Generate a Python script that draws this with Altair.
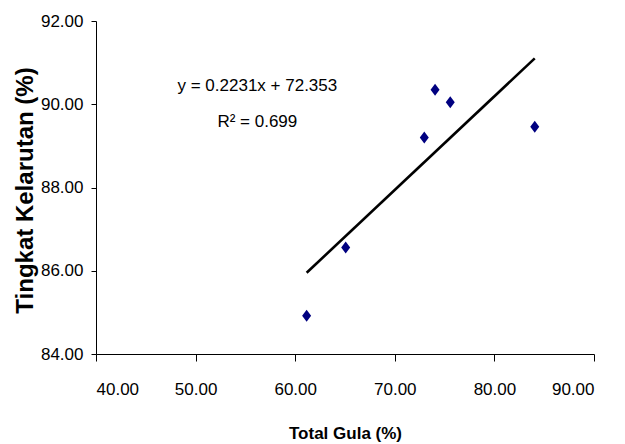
import altair as alt
import pandas as pd

# Data
total_gula = [61.15, 65.07, 72.96, 74.04, 75.57, 84.05]
kelarutan = [84.92, 86.56, 89.20, 90.35, 90.05, 89.46]

eq_lines = ["y = 0.2231x + 72.353", "R\u00b2 = 0.699"]
eq_x = [56.2, 56.2]
eq_y = [90.44, 89.57]

x_ticks = [40, 50, 60, 70, 80, 90]
y_ticks = [84, 86, 88, 90, 92]

FONT = "Liberation Sans, Arial, sans-serif"

df = pd.DataFrame({"x": total_gula, "y": kelarutan})
ann = pd.DataFrame({"text": eq_lines, "x": eq_x, "y": eq_y})

xscale = alt.Scale(domain=[40, 90], nice=False, zero=False)
yscale = alt.Scale(domain=[84, 92], nice=False, zero=False)

xaxis = alt.Axis(
    title="Total Gula (%)", values=x_ticks, format=".2f", grid=False,
    domainColor="black", tickColor="black", tickSize=7, labelColor="black",
    labelFont=FONT, labelFontSize=17, labelPadding=20,
    titleFont=FONT, titleFontSize=17, titleFontWeight="bold", titleColor="black",
    titleBaseline="alphabetic", titleY=84,
)
yaxis = alt.Axis(
    title="Tingkat Kelarutan (%)", values=y_ticks, format=".2f", grid=False,
    domainColor="black", tickColor="black", tickSize=5, labelColor="black",
    labelFont=FONT, labelFontSize=17, labelPadding=8,
    titleFont=FONT, titleFontSize=24, titleFontWeight="bold", titleColor="black",
    titleAngle=270, titleBaseline="alphabetic", titleX=-64, titleY=169,
)

base = alt.Chart(df)

points = base.mark_point(
    shape="M0,-1L0.75,0L0,1L-0.75,0Z", filled=True, color="#000080", size=144, opacity=1
).encode(
    x=alt.X("x:Q", scale=xscale, axis=xaxis),
    y=alt.Y("y:Q", scale=yscale, axis=yaxis),
)

trend = base.transform_regression("x", "y").mark_line(
    color="black", strokeWidth=2.6
).encode(x=alt.X("x:Q", scale=xscale), y=alt.Y("y:Q", scale=yscale))

text = alt.Chart(ann).mark_text(
    font=FONT, fontSize=17, color="black", align="center", baseline="middle"
).encode(
    x=alt.X("x:Q", scale=xscale), y=alt.Y("y:Q", scale=yscale), text="text:N"
)

chart = alt.layer(trend, points, text).properties(
    width=498, height=333,
    padding={"left": 96, "top": 21, "right": 31, "bottom": 90},
    autosize=alt.AutoSizeParams(type="none"),
    background="white",
).configure_view(stroke=None)

chart.save("out.html", embed_options={"renderer": "svg", "actions": False})
